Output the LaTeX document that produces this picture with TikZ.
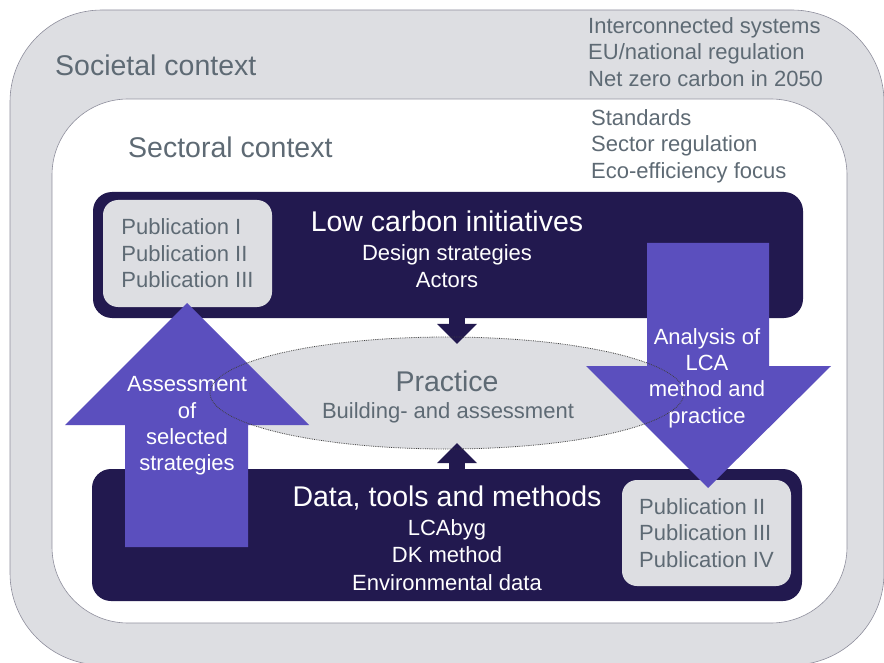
\documentclass[tikz,border=0pt]{standalone}
\usepackage{fontspec}
\setmainfont{Liberation Sans}
\usepackage{tikz}
\usetikzlibrary{arrows.meta,positioning,calc,shapes.geometric}
\definecolor{ctxfill}{HTML}{DDDEE2}
\definecolor{ctxline}{HTML}{8E8E9C}
\definecolor{navy}{HTML}{22194F}
\definecolor{arrowviolet}{HTML}{5B4FBE}
\definecolor{slate}{HTML}{5E6A74}
\tikzset{
  every node/.append style={inner sep=0pt},
}
\tikzset{
  ctx/.style={draw=ctxline, line width=0.6pt},
  panel/.style={fill=navy, rounded corners=19pt, minimum width=710pt},
  pub/.style={fill=ctxfill, rounded corners=15pt, text=slate, align=left,
              minimum width=169pt, minimum height=106pt, font=\fontsize{22}{26.5}\selectfont},
  link/.style={draw=navy, line width=16pt, -{Triangle[width=40pt, length=20pt, line width=0pt]}}
}

\begin{document}
\begin{tikzpicture}[
  x=1pt, y=-1pt,
  bigtxt/.style={font=\fontsize{28.5}{32}\selectfont},
  smalltxt/.style={font=\fontsize{22}{26.4}\selectfont, align=center},
  bigarrow/.style={fill=arrowviolet},
  rim/.style={draw=black!75, densely dotted, line width=0.8pt}
]
\useasboundingbox (0,0) rectangle (884,663);

% Societal context - outer frame
\node[ctx, fill=ctxfill, rounded corners=92pt, minimum width=874pt, minimum height=655pt] (societal) at (447,337.5) {};
\node[bigtxt, text=slate, anchor=west] (societaltitle) at (55,65) {Societal context};
\node[smalltxt, text=slate, align=left, anchor=west] (societalnotes) at (588,52) {Interconnected systems\\EU/national regulation\\Net zero carbon in 2050};

% Sectoral context - inner frame
\node[ctx, fill=white, rounded corners=76pt, minimum width=795pt, minimum height=524pt] (sectoral) at (449.5,361) {};
\node[bigtxt, text=slate, anchor=west] (sectoraltitle) at (128,147) {Sectoral context};
\node[smalltxt, text=slate, align=left, anchor=west] (sectoralnotes) at (591,146) {Standards\\Sector regulation\\Eco-efficiency focus};

% Low carbon initiatives panel
\node[panel, minimum height=126pt] (lowcarbon) at (448,255) {};
\node[pub, minimum height=107pt] (pubtop) at (187.5,253.5) {Publication I\\Publication II\\Publication III};
\node[bigtxt, text=white] (lowcarbontitle) at (447,221) {Low carbon initiatives};
\node[smalltxt, text=white] (lowcarbonitems) at (447,266) {Design strategies\\Actors};

% Data, tools and methods panel
\node[panel, minimum height=132pt] (datatools) at (447,535) {};
\node[pub] (pubbottom) at (706.5,533) {Publication II\\Publication III\\Publication IV};
\node[bigtxt, text=white] (datatitle) at (447,498) {Data, tools and methods};
\node[smalltxt, text=white, font=\fontsize{22}{27.5}\selectfont] (dataitems) at (447,555) {LCAbyg\\DK method\\Environmental data};

% Practice in the middle
\node[ellipse, fill=ctxfill, minimum width=474pt, minimum height=112pt] (practice) at (447,393) {};
\node[bigtxt, text=slate] (practicetitle) at (447,381) {Practice};
\node[smalltxt, text=slate] (practicesub) at (448,413) {Building- and assessment};

% Links between panels and practice
\draw[link] ([xshift=9pt]lowcarbon.south) -- ([xshift=10pt, yshift=-7pt]practice.north);
\draw[link] ([xshift=10pt]datatools.north) -- ([xshift=10pt, yshift=6pt]practice.south);

% Big block arrows
\fill[bigarrow] (125,547) -- (125,425) -- (65,425) -- (187,303) -- (309,425) -- (248,425) -- (248,547) -- cycle;
\node[smalltxt, text=white] (assesstxt) at (187,426) {Assessment\\of\\selected\\strategies};
\fill[bigarrow] (647,243) -- (769,243) -- (769,366) -- (831,366) -- (708,488) -- (586,366) -- (647,366) -- cycle;
\node[smalltxt, text=white] (analysistxt) at (707,378) {Analysis of\\LCA\\method and\\practice};

% dotted rim of practice on top of the arrows
\draw[rim] (practice.center) ellipse [x radius=237pt, y radius=56pt];

\end{tikzpicture}
\end{document}
